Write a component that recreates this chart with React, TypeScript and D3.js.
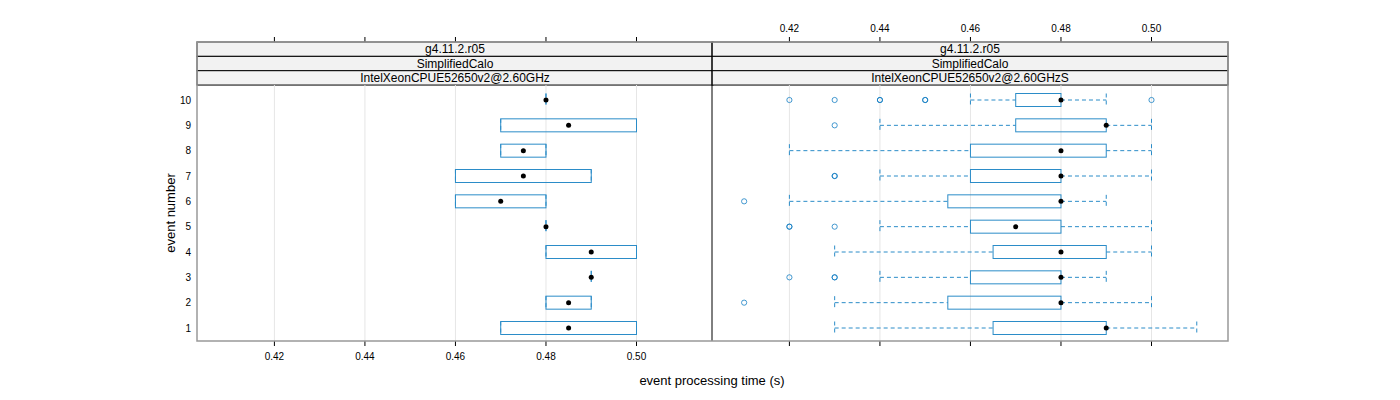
import React from "react";
import * as d3 from "d3";

// ---- data (rows are event numbers 1..10) ----
const events = [1, 2, 3, 4, 5, 6, 7, 8, 9, 10];
const xTicks = [0.42, 0.44, 0.46, 0.48, 0.5];
const stripTop = ["g4.11.2.r05", "g4.11.2.r05"];
const stripMid = ["SimplifiedCalo", "SimplifiedCalo"];
const stripBot = ["IntelXeonCPUE52650v2@2.60GHz", "IntelXeonCPUE52650v2@2.60GHzS"];

// left panel
const leftLo = [0.47, 0.48, 0.49, 0.48, 0.48, 0.46, 0.46, 0.47, 0.47, 0.48];
const leftQ1 = [0.47, 0.48, 0.49, 0.48, 0.48, 0.46, 0.46, 0.47, 0.47, 0.48];
const leftMed = [0.485, 0.485, 0.49, 0.49, 0.48, 0.47, 0.475, 0.475, 0.485, 0.48];
const leftQ3 = [0.5, 0.49, 0.49, 0.5, 0.48, 0.48, 0.49, 0.48, 0.5, 0.48];
const leftHi = [0.5, 0.49, 0.49, 0.5, 0.48, 0.48, 0.49, 0.48, 0.5, 0.48];
const leftOut: number[][] = [[], [], [], [], [], [], [], [], [], []];

// right panel
const rightLo = [0.43, 0.43, 0.44, 0.43, 0.44, 0.42, 0.44, 0.42, 0.44, 0.46];
const rightQ1 = [0.465, 0.455, 0.46, 0.465, 0.46, 0.455, 0.46, 0.46, 0.47, 0.47];
const rightMed = [0.49, 0.48, 0.48, 0.48, 0.47, 0.48, 0.48, 0.48, 0.49, 0.48];
const rightQ3 = [0.49, 0.48, 0.48, 0.49, 0.48, 0.48, 0.48, 0.49, 0.49, 0.48];
const rightHi = [0.51, 0.5, 0.49, 0.5, 0.5, 0.49, 0.5, 0.5, 0.5, 0.49];
const rightOut: number[][] = [
  [],
  [0.41],
  [0.42, 0.43, 0.43],
  [],
  [0.42, 0.42, 0.43],
  [0.41],
  [0.43, 0.43],
  [],
  [0.43],
  [0.42, 0.43, 0.44, 0.44, 0.45, 0.45, 0.5],
];

const panels = [
  { lo: leftLo, q1: leftQ1, med: leftMed, q3: leftQ3, hi: leftHi, out: leftOut },
  { lo: rightLo, q1: rightQ1, med: rightMed, q3: rightQ3, hi: rightHi, out: rightOut },
];

const FONT = "'Liberation Sans', Arial, Helvetica, sans-serif";
const BLUE = "#2b8cc8";
const OUTC = "#0a78c0";

export default function App() {
  const panelX = [197, 712];
  const panelW = 516;
  const top = 42;
  const sh = 14.35;
  const pTop = top + 3 * sh;
  const pBot = 341;
  const x = d3.scaleLinear().domain([0.4029, 0.5169]).range([0, panelW]);
  const y = d3.scaleLinear().domain([1, 10]).range([328, 100]);
  const bh = 6.5;

  return (
    <div style={{ position: "absolute", left: 0, top: 0 }}>
      <svg width={1400} height={400} style={{ display: "block", fontFamily: FONT }}>
        <rect width={1400} height={400} fill="#fff" />
        {panels.map((p, pi) => {
          const ox = panelX[pi];
          const strips = [stripTop[pi], stripMid[pi], stripBot[pi]];
          return (
            <g key={pi}>
              {/* strips */}
              {strips.map((s, si) => (
                <g key={si}>
                  <rect x={ox} y={top + si * sh} width={panelW} height={sh} fill="#f2f2f2" stroke="#000" strokeWidth={1} />
                  <text x={ox + panelW / 2} y={top + si * sh + sh / 2 + 4.2} textAnchor="middle" fontSize={12} fill="#000">
                    {s}
                  </text>
                </g>
              ))}
              {/* grid */}
              {xTicks.map((t) => (
                <line key={t} x1={ox + x(t)} x2={ox + x(t)} y1={pTop} y2={pBot} stroke="#e6e6e6" strokeWidth={1} />
              ))}
              {/* boxes */}
              {events.map((e, i) => {
                const yc = y(e);
                const xl = ox + x(p.lo[i]);
                const x1 = ox + x(p.q1[i]);
                const x3 = ox + x(p.q3[i]);
                const xh = ox + x(p.hi[i]);
                return (
                  <g key={e}>
                    <line x1={xl} x2={x1} y1={yc} y2={yc} stroke={BLUE} strokeDasharray="4,3" />
                    <line x1={x3} x2={xh} y1={yc} y2={yc} stroke={BLUE} strokeDasharray="4,3" />
                    <line x1={xl} x2={xl} y1={yc - bh} y2={yc + bh} stroke={BLUE} strokeDasharray="4,3" />
                    <line x1={xh} x2={xh} y1={yc - bh} y2={yc + bh} stroke={BLUE} strokeDasharray="4,3" />
                    <rect x={x1} y={yc - bh} width={Math.max(0, x3 - x1)} height={2 * bh} fill="none" stroke={BLUE} strokeWidth={1} />
                    {p.out[i].map((v, k) => (
                      <circle key={k} cx={ox + x(v)} cy={yc} r={2.6} fill="none" stroke={OUTC} strokeOpacity={0.75} strokeWidth={1} />
                    ))}
                    <circle cx={ox + x(p.med[i])} cy={yc} r={2.5} fill="#000" />
                  </g>
                );
              })}
              {/* ticks */}
              {xTicks.map((t) => (
                <g key={"t" + t}>
                  <line x1={ox + x(t)} x2={ox + x(t)} y1={top} y2={top - 5} stroke="#000" />
                  <line x1={ox + x(t)} x2={ox + x(t)} y1={pBot} y2={pBot + 5} stroke="#000" />
                  {pi === 1 && (
                    <text x={ox + x(t)} y={32} textAnchor="middle" fontSize={10} fill="#000">
                      {d3.format(".2f")(t)}
                    </text>
                  )}
                  {pi === 0 && (
                    <text x={ox + x(t)} y={360} textAnchor="middle" fontSize={10} fill="#000">
                      {d3.format(".2f")(t)}
                    </text>
                  )}
                </g>
              ))}
            </g>
          );
        })}
        {/* divider */}
        <line x1={712} x2={712} y1={top} y2={pBot} stroke="#000" strokeWidth={1} />
        {/* outer frame */}
        <rect x={197} y={top} width={1031} height={pBot - top} fill="none" stroke="#999" strokeWidth={1.5} />
        {/* y labels */}
        {events.map((e) => (
          <text key={e} x={191} y={y(e) + 3.5} textAnchor="end" fontSize={10} fill="#000">
            {e}
          </text>
        ))}
        <text transform={`translate(175,${(pTop + pBot) / 2}) rotate(-90)`} textAnchor="middle" fontSize={13} fill="#000">
          event number
        </text>
        <text x={712} y={385} textAnchor="middle" fontSize={13} fill="#000">
          event processing time (s)
        </text>
      </svg>
    </div>
  );
}
